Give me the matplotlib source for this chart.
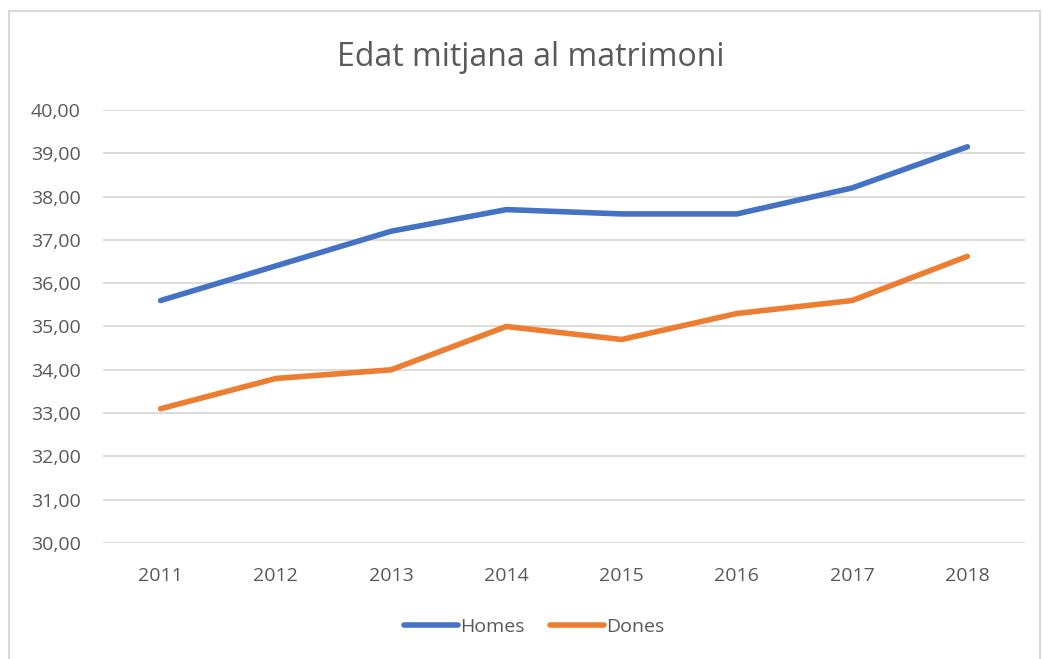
import matplotlib.pyplot as plt
from matplotlib.patches import Rectangle
from matplotlib.ticker import FuncFormatter

years = ['2011', '2012', '2013', '2014', '2015', '2016', '2017', '2018']
homes = [35.6, 36.4, 37.2, 37.7, 37.6, 37.6, 38.2, 39.15]
dones = [33.1, 33.8, 34.0, 35.0, 34.7, 35.3, 35.6, 36.62]

plt.rcParams['font.family'] = ['Open Sans', 'DejaVu Sans']

W, H = 1043, 659
fig = plt.figure(figsize=(W / 100, H / 100), dpi=100)

# chart frame (bottom cut off in the original)
fig.patches.append(Rectangle((9 / W, -0.05), (1040 - 9) / W, 1.05 - 11 / H,
                             transform=fig.transFigure, fill=False,
                             edgecolor='#d9d9d9', linewidth=1.5))

ax = fig.add_axes([103 / W, 1 - 543 / H, (1025 - 103) / W, (543 - 110) / H])

x = range(len(years))
ax.plot(x, homes, color='#4472c4', linewidth=4, solid_capstyle='round', label='Homes')
ax.plot(x, dones, color='#ed7d31', linewidth=4, solid_capstyle='round', label='Dones')

ax.set_xlim(-0.5, len(years) - 0.5)
ax.set_ylim(30, 40)
ax.set_yticks(range(30, 41))
ax.yaxis.set_major_formatter(FuncFormatter(lambda v, p: f'{v:.2f}'.replace('.', ',')))
ax.set_xticks(list(x))
ax.set_xticklabels(years)
ax.grid(axis='y', color='#d9d9d9', linewidth=1.3)
ax.set_axisbelow(True)
for s in ax.spines.values():
    s.set_visible(False)
ax.tick_params(length=0, labelsize=14, colors='#595959')
ax.tick_params(axis='x', pad=17)
ax.tick_params(axis='y', pad=16)

fig.text(531 / W, 1 - 57 / H, 'Edat mitjana al matrimoni', ha='center', va='center',
         fontsize=23, color='#595959')

fig.legend(loc='center', bbox_to_anchor=(534 / W, 1 - 627 / H), ncol=2, frameon=False,
           fontsize=14, labelcolor='#595959', handlelength=2.8, handletextpad=0.1,
           columnspacing=1.3)

fig.savefig('out.png', dpi=100)
